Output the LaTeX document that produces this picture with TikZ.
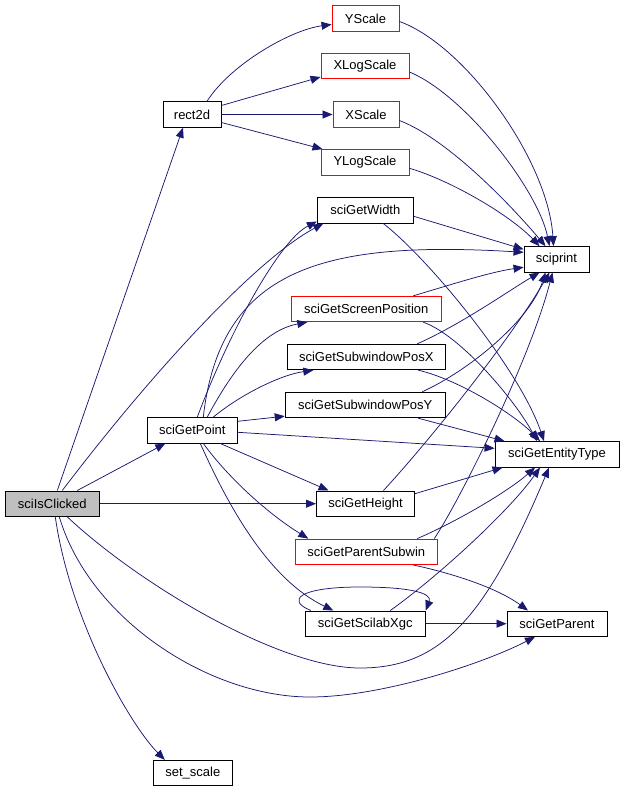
\documentclass[tikz,border=0pt]{standalone}
\usepackage{fontspec}
\setmainfont{Liberation Sans}
\usetikzlibrary{arrows.meta}
\definecolor{edgeblue}{HTML}{191970}
\definecolor{extred}{HTML}{FF0000}

\begin{document}
\begin{tikzpicture}[x=1pt,y=-1pt,
  func/.style={rectangle, draw, line width=0.9pt, inner sep=0pt, minimum height=25.5pt, font=\fontsize{13}{15}\selectfont},
  ext/.style={draw=extred},
  edge/.style={draw=edgeblue, line width=0.75pt, -{Triangle[length=10pt,width=8pt]}}]
\useasboundingbox (0,0) rectangle (623,789);
%%%%%%%%%%%%%%%%%%%%%%%%%%%%%%%%%%%%%%%%%%%%%%%%%%
% nodes
%%%%%%%%%%%%%%%%%%%%%%%%%%%%%%%%%%%%%%%%%%%%%%%%%%
  \node[func, fill=gray!50, minimum width=94pt] (clicked) at (52.3,503.7) {sciIsClicked};
  \node[func, ext, minimum width=67pt] (yscale) at (365.5,18.5) {YScale};
  \node[func, ext, minimum width=88pt] (xlog) at (365,66) {XLogScale};
  \node[func, minimum width=58pt] (rect) at (192,114.5) {rect2d};
  \node[func, ext, minimum width=66pt] (xscale) at (366,114.5) {XScale};
  \node[func, ext, minimum width=88pt] (ylog) at (365,162.3) {YLogScale};
  \node[func, minimum width=96pt] (width) at (365.3,210.3) {sciGetWidth};
  \node[func, minimum width=65pt] (print) at (556.5,259.3) {sciprint};
  \node[func, ext, minimum width=150pt] (screen) at (366.3,309) {sciGetScreenPosition};
  \node[func, minimum width=158pt] (posx) at (366.3,357) {sciGetSubwindowPosX};
  \node[func, minimum width=160pt] (posy) at (365.2,405) {sciGetSubwindowPosY};
  \node[func, minimum width=90pt] (point) at (192.3,430.3) {sciGetPoint};
  \node[func, minimum width=124pt] (type) at (557,454.3) {sciGetEntityType};
  \node[func, minimum width=98pt] (height) at (365.5,503.7) {sciGetHeight};
  \node[func, ext, minimum width=142pt] (parsub) at (366.3,551.8) {sciGetParentSubwin};
  \node[func, minimum width=120pt] (xgc) at (365.3,623.7) {sciGetScilabXgc};
  \node[func, minimum width=100pt] (parent) at (557,623.7) {sciGetParent};
  \node[func, minimum width=79pt] (setscale) at (192.8,773) {set\_scale};
%%%%%%%%%%%%%%%%%%%%%%%%%%%%%%%%%%%%%%%%%%%%%%%%%%
% sciIsClicked
%%%%%%%%%%%%%%%%%%%%%%%%%%%%%%%%%%%%%%%%%%%%%%%%%%
  \draw[edge] ([xshift=5pt]clicked.north) -- ([xshift=-9pt]rect.south);
  \draw[edge] ([xshift=25pt]clicked.north) -- ([xshift=-27pt]point.south);
  \draw[edge] (clicked.east) -- (height.west);
  \draw[edge] ([xshift=10pt]clicked.north) .. controls (150,375) and (255,260) .. ([xshift=-42pt]width.south);
  \draw[edge] ([xshift=15pt]clicked.south) .. controls (140,585) and (280,668) .. (360,668)
    .. controls (440,668) and (485,620) .. ([xshift=-8pt]type.south);
  \draw[edge] ([xshift=7pt]clicked.south) .. controls (90,620) and (210,697) .. (310,697)
    .. controls (380,697) and (480,665) .. ([xshift=-22pt]parent.south);
  \draw[edge] ([xshift=3pt]clicked.south) .. controls (70,620) and (130,725) .. ([xshift=-28pt]setscale.north);
%%%%%%%%%%%%%%%%%%%%%%%%%%%%%%%%%%%%%%%%%%%%%%%%%%
% sciGetPoint
%%%%%%%%%%%%%%%%%%%%%%%%%%%%%%%%%%%%%%%%%%%%%%%%%%
  \draw[edge] ([xshift=5pt]point.north) .. controls (230,330) and (280,240) .. ([yshift=2pt]width.south west);
  \draw[edge] ([xshift=11pt]point.north) .. controls (220,270) and (320,240) .. ([yshift=7pt]print.west);
  \draw[edge] ([xshift=15pt]point.north) .. controls (235,365) and (265,330) .. ([xshift=-59pt]screen.south);
  \draw[edge] ([xshift=21pt]point.north) .. controls (240,395) and (280,375) .. ([xshift=-53pt]posx.south);
  \draw[edge] ([yshift=9pt]point.east) -- ([yshift=2pt]posy.south west);
  \draw[edge] ([yshift=-2pt]point.east) -- ([yshift=6pt]type.west);
  \draw[edge] ([xshift=28pt]point.south) -- ([xshift=-37pt]height.north);
  \draw[edge] ([xshift=11pt]point.south) .. controls (230,480) and (270,515) .. ([xshift=-58pt]parsub.north);
  \draw[edge] ([xshift=8pt]point.south) .. controls (230,510) and (270,580) .. ([xshift=-32pt]xgc.north);
%%%%%%%%%%%%%%%%%%%%%%%%%%%%%%%%%%%%%%%%%%%%%%%%%%
% rect2d
%%%%%%%%%%%%%%%%%%%%%%%%%%%%%%%%%%%%%%%%%%%%%%%%%%
  \draw[edge] ([xshift=15pt]rect.north) .. controls (230,65) and (290,30) .. ([yshift=-6pt]yscale.west);
  \draw[edge] ([yshift=9pt]rect.east) -- ([yshift=-11pt]xlog.west);
  \draw[edge] (rect.east) -- (xscale.west);
  \draw[edge] ([yshift=-8pt]rect.east) -- ([xshift=2pt]ylog.north west);
%%%%%%%%%%%%%%%%%%%%%%%%%%%%%%%%%%%%%%%%%%%%%%%%%%
% into sciprint / sciGetEntityType / sciGetParent
%%%%%%%%%%%%%%%%%%%%%%%%%%%%%%%%%%%%%%%%%%%%%%%%%%
  \draw[edge] ([yshift=-3pt]yscale.east) .. controls (465,45) and (548,160) .. ([xshift=-3pt]print.north);
  \draw[edge] ([yshift=-6pt]xlog.east) .. controls (465,95) and (538,190) .. ([xshift=-7pt]print.north);
  \draw[edge] ([yshift=-6pt]xscale.east) .. controls (450,140) and (515,210) .. ([xshift=-11pt]print.north);
  \draw[edge] ([yshift=-6pt]ylog.east) .. controls (450,180) and (510,215) .. ([xshift=-17pt]print.north);

  \draw[edge] ([yshift=-6pt]width.east) -- ([yshift=10pt]print.west);
  \draw[edge] ([xshift=18pt]width.south) .. controls (430,260) and (520,370) .. ([xshift=-13pt]type.north);

  \draw[edge] ([xshift=47pt]screen.north) .. controls (450,285) and (490,272) .. ([yshift=-8pt]print.west);
  \draw[edge] ([xshift=57pt]screen.south) .. controls (460,335) and (515,400) .. ([xshift=-20pt]type.north);

  \draw[edge] ([xshift=51pt]posx.north) .. controls (460,325) and (510,290) .. ([xshift=-17pt]print.south);
  \draw[edge] ([xshift=52pt]posx.south) .. controls (460,380) and (515,415) .. ([xshift=-17pt]type.north);

  \draw[edge] ([xshift=57pt]posy.north) .. controls (470,370) and (530,320) .. ([xshift=-11pt]print.south);
  \draw[edge] ([xshift=53pt]posy.south) -- ([xshift=10pt]type.north west);

  \draw[edge] ([yshift=10pt]height.east) -- ([xshift=8pt]type.south west);
  \draw[edge] ([xshift=18pt]height.north) .. controls (430,440) and (510,340) .. ([xshift=-7pt]print.south);

  \draw[edge] ([xshift=68pt]parsub.north) .. controls (460,500) and (530,360) .. ([xshift=-4pt]print.south);
  \draw[edge] ([xshift=51pt]parsub.north) .. controls (460,520) and (510,490) .. ([xshift=-22pt]type.south);
  \draw[edge] ([xshift=47pt]parsub.south) .. controls (460,575) and (500,590) .. ([xshift=-29pt]parent.north);

  \draw[edge] ([xshift=25pt]xgc.north) .. controls (440,575) and (510,510) .. ([xshift=-17pt]type.south);
  \draw[edge] (xgc.east) -- (parent.west);
  \draw[edge] ([xshift=6pt]xgc.north west) .. controls (285,600) and (300,587) .. (360,587)
    .. controls (415,587) and (432,594) .. (xgc.north east);
\end{tikzpicture}
\end{document}
